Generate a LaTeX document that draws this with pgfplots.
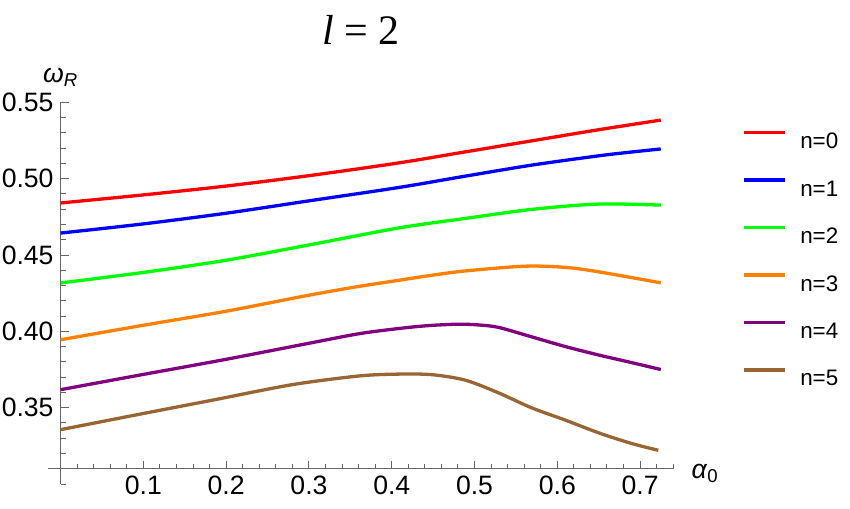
\documentclass[border=0pt]{standalone}
\usepackage{pgfplots}
\pgfplotsset{compat=1.18}
\usepackage{fontspec}
\setmainfont{Liberation Sans}
\newfontfamily\timesfont{Liberation Serif}

\definecolor{mred}{rgb}{1,0,0}
\definecolor{mblue}{rgb}{0,0,1}
\definecolor{mgreen}{rgb}{0,1,0}
\definecolor{morange}{rgb}{1,0.5,0}
\definecolor{mpurple}{rgb}{0.5,0,0.5}
\definecolor{mbrown}{rgb}{0.6,0.4,0.2}

\begin{document}
\begin{tikzpicture}
\begin{axis}[
  scale only axis,
  width=312.5pt, height=190.8pt,
  xmin=-0.015, xmax=0.74,
  ymin=0.30, ymax=0.55,
  axis x line=bottom, axis y line=left,
  axis x line shift=-7.63pt,
  axis y line shift=-6.2pt,
  axis line style={-, draw=black!60, line width=0.6pt},
  tick align=inside,
  major tick length=4pt, minor tick length=2.5pt,
  tick style={black!60, line width=0.5pt},
  xtick={0.1,0.2,0.3,0.4,0.5,0.6,0.7},
  minor xtick={0.02,0.04,0.06,0.08,0.12,0.14,0.16,0.18,0.22,0.24,0.26,0.28,0.32,0.34,0.36,0.38,0.42,0.44,0.46,0.48,0.52,0.54,0.56,0.58,0.62,0.64,0.66,0.68,0.72,0.74},
  ytick={0.35,0.40,0.45,0.50,0.55},
  minor ytick={0.30,0.31,0.32,0.33,0.34,0.36,0.37,0.38,0.39,0.41,0.42,0.43,0.44,0.46,0.47,0.48,0.49,0.51,0.52,0.53,0.54},
  x tick label style={/pgf/number format/.cd, fixed, fixed zerofill, precision=1},
  y tick label style={/pgf/number format/.cd, fixed, fixed zerofill, precision=2},
  /pgf/number format/assume math mode=true,
  tick label style={font=\fontsize{13.3}{16}\selectfont, text=black},
  every axis title/.style={at={(0.5,1)}, anchor=center, yshift=36pt},
  title={\timesfont\fontsize{21}{25}\selectfont\textit{l} = 2},
  every axis y label/.style={at={(axis description cs:0.02,1)}, anchor=center, yshift=12.5pt},
  ylabel={\fontsize{13.3}{16}\selectfont\textit{ω}\textsubscript{\textit{R}}},
  every axis x label/.style={at={(axis description cs:1.051,0.04)}, anchor=center, yshift=-2.5pt},
  xlabel={\fontsize{13.3}{16}\selectfont\textit{α}\textsubscript{0}},
  legend style={draw=none, fill=none, at={(1.11,0.925)}, anchor=north west,
    inner sep=0pt, outer sep=0pt, row sep=14.9pt, column sep=7pt,
    nodes={inner sep=0pt, text height=8pt, text depth=0pt, font=\fontsize{11.2}{13}\selectfont}},
  legend cell align=left,
  legend image code/.code={\draw[#1] (0pt,4pt) -- (20.5pt,4pt);},
  every axis plot/.append style={line width=1.65pt, smooth},
  clip=false,
]
\addplot[mred] coordinates {
  (0,0.4841) (0.1,0.4894) (0.2,0.4952) (0.3,0.5020) (0.409,0.5104) (0.489,0.5176)
  (0.569,0.5248) (0.650,0.5321) (0.725,0.5384)
};
\addplot[mblue] coordinates {
  (0,0.4644) (0.1,0.4704) (0.2,0.4774) (0.3,0.4855) (0.409,0.4943) (0.489,0.5017)
  (0.569,0.5089) (0.650,0.5150) (0.690,0.5175) (0.725,0.5195)
};
\addplot[mgreen] coordinates {
  (0,0.4317) (0.1,0.4386) (0.2,0.4466) (0.3,0.4566) (0.409,0.4678) (0.489,0.4740)
  (0.569,0.4799) (0.650,0.4834) (0.725,0.4827)
};
\addplot[morange] coordinates {
  (0,0.3945) (0.1,0.4040) (0.2,0.4132) (0.3,0.4237) (0.361,0.4295) (0.409,0.4335)
  (0.449,0.4368) (0.489,0.4396) (0.561,0.4427) (0.610,0.4419) (0.650,0.4390) (0.725,0.4318)
};
\addplot[mpurple] coordinates {
  (0,0.3618) (0.1,0.3718) (0.2,0.3817) (0.3,0.3922) (0.361,0.3985) (0.409,0.4019)
  (0.445,0.4038) (0.481,0.4047) (0.505,0.4042) (0.529,0.4026) (0.569,0.3964)
  (0.610,0.3900) (0.650,0.3845) (0.690,0.3795) (0.725,0.3750)
};
\addplot[mbrown] coordinates {
  (0,0.3356) (0.1,0.3462) (0.186,0.3552) (0.28,0.3651) (0.361,0.3708) (0.409,0.3720)
  (0.449,0.3716) (0.489,0.3680) (0.529,0.3597) (0.569,0.3499) (0.610,0.3418)
  (0.650,0.3335) (0.690,0.3265) (0.722,0.3221)
};
\legend{n=0, n=1, n=2, n=3, n=4, n=5}
\end{axis}
\pgfresetboundingbox
\path[use as bounding box] (-24.1pt,-12pt) rectangle (400.9pt,242pt);
\end{tikzpicture}
\end{document}
